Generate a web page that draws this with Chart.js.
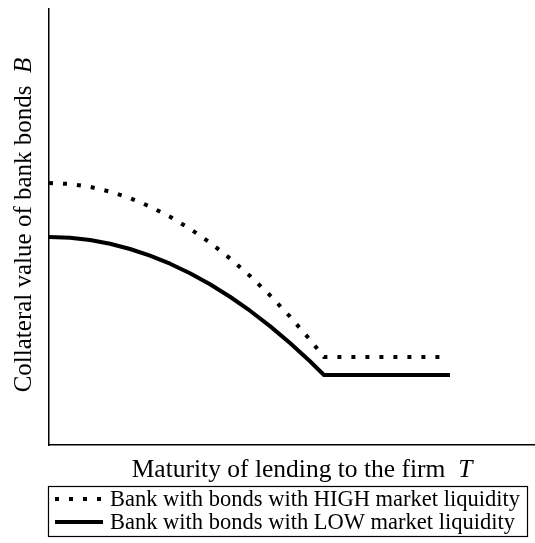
<!DOCTYPE html>
<html>
<head>
<meta charset="utf-8">
<script src="https://cdn.jsdelivr.net/npm/chart.js@4"></script>
<style>
  html, body { margin: 0; padding: 0; background: #fff; }
  #wrap { width: 535px; height: 543px; position: relative; }
</style>
</head>
<body>
<div id="wrap"><canvas id="c" width="535" height="543"></canvas></div>
<script>
// Maturity of lending (arbitrary units, 0–100 along the horizontal axis)
const maturityHigh = [0, 4.32, 8.44, 12.55, 16.67, 20.78, 24.9, 29.01, 33.13, 37.24, 41.36, 45.47, 49.59, 53.7, 56.58, 80.66];
const valueHigh    = [60.09, 59.86, 59.20, 58.12, 56.63, 54.70, 52.36, 49.61, 46.42, 42.80, 38.78, 34.33, 29.45, 24.15, 20.18, 20.18];
const maturityLow  = [0, 4.32, 8.44, 12.55, 16.67, 20.78, 24.9, 29.01, 33.13, 37.24, 41.36, 45.47, 49.59, 53.7, 56.58, 82.51];
const valueLow     = [47.71, 47.52, 47.00, 46.15, 44.95, 43.44, 41.58, 39.38, 36.86, 34.00, 30.80, 27.27, 23.39, 19.20, 16.06, 16.06];
const seriesNames  = ["Bank with bonds with HIGH market liquidity", "Bank with bonds with LOW market liquidity"];
const xTitle = ["Maturity of lending to the firm", "T"];
const yTitle = ["Collateral value of bank bonds", "B"];

const SERIF = '"Liberation Serif", "Times New Roman", serif';

function pts(xs, ys) { return xs.map((x, i) => ({ x: x, y: ys[i] })); }

const decor = {
  id: 'decor',
  afterDraw(chart) {
    const ctx = chart.ctx;
    ctx.save();
    ctx.fillStyle = '#000';
    ctx.textBaseline = 'alphabetic';
    ctx.textAlign = 'left';
    // x title
    const fReg = '25.5px ' + SERIF, fIt = 'italic 25.5px ' + SERIF;
    ctx.font = fReg; const w1 = ctx.measureText(xTitle[0]).width; const gap = ctx.measureText('  ').width;
    ctx.font = fIt; const w2 = ctx.measureText(xTitle[1]).width;
    const cx = 302 - (w1 + gap + w2) / 2;
    ctx.font = fReg; ctx.fillText(xTitle[0], cx, 477);
    ctx.font = fIt; ctx.fillText(xTitle[1], cx + w1 + gap, 477);
    // y title (rotated)
    ctx.save();
    ctx.translate(31, 225);
    ctx.rotate(-Math.PI / 2);
    const fRegY = '25px ' + SERIF, fItY = 'italic 25px ' + SERIF;
    ctx.font = fRegY; const v1 = ctx.measureText(yTitle[0]).width; const gapY = ctx.measureText('  ').width;
    ctx.font = fItY; const v2 = ctx.measureText(yTitle[1]).width;
    const cy = -(v1 + gapY + v2) / 2;
    ctx.font = fRegY; ctx.fillText(yTitle[0], cy, 0);
    ctx.font = fItY; ctx.fillText(yTitle[1], cy + v1 + gapY, 0);
    ctx.restore();
    // legend box
    ctx.strokeStyle = '#000';
    ctx.lineWidth = 1.2;
    ctx.strokeRect(48.5, 486.5, 479, 50);
    const rows = [499, 522];
    chart.data.datasets.forEach((ds, i) => {
      ctx.save();
      ctx.strokeStyle = ds.borderColor;
      ctx.lineWidth = ds.borderWidth;
      ctx.lineCap = 'butt';
      ctx.setLineDash(ds.borderDash || []);
      ctx.beginPath();
      ctx.moveTo(55, rows[i]);
      ctx.lineTo(103, rows[i]);
      ctx.stroke();
      ctx.restore();
      ctx.font = '22.5px ' + SERIF;
      ctx.textAlign = 'left';
      ctx.textBaseline = 'middle';
      ctx.fillText(ds.label, 110, rows[i] + 1);
    });
    ctx.restore();
  }
};

new Chart(document.getElementById('c'), {
  type: 'line',
  data: {
    datasets: [
      { label: seriesNames[0], data: pts(maturityHigh, valueHigh), borderColor: '#000', borderWidth: 4,
        borderDash: [4, 10], borderCapStyle: 'butt', pointRadius: 0, tension: 0, fill: false },
      { label: seriesNames[1], data: pts(maturityLow, valueLow), borderColor: '#000', borderWidth: 4,
        pointRadius: 0, tension: 0, fill: false, borderJoinStyle: 'round' }
    ]
  },
  options: {
    responsive: false,
    animation: false,
    devicePixelRatio: 1,
    layout: { padding: { left: 49, top: 9, right: 0, bottom: 98 } },
    plugins: { legend: { display: false }, tooltip: { enabled: false }, title: { display: false } },
    scales: {
      x: { type: 'linear', min: 0, max: 100,
           grid: { display: false, drawTicks: false },
           border: { display: true, color: '#000', width: 1.5 },
           ticks: { display: false },
           afterFit: s => { s.height = 0; } },
      y: { type: 'linear', min: 0, max: 100,
           grid: { display: false, drawTicks: false },
           border: { display: true, color: '#000', width: 1.5 },
           ticks: { display: false },
           afterFit: s => { s.width = 0; } }
    }
  },
  plugins: [decor]
});
</script>
</body>
</html>
